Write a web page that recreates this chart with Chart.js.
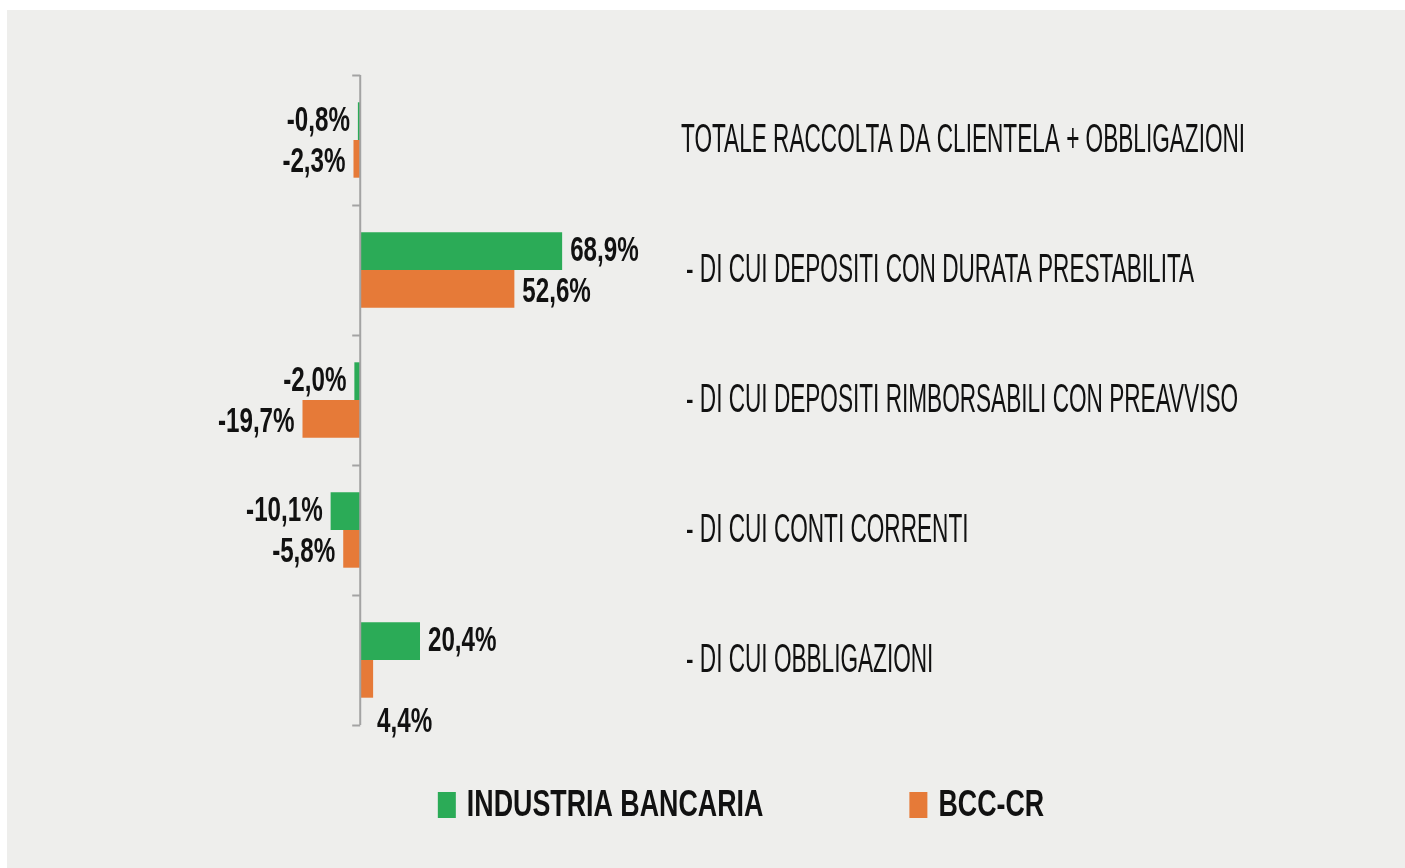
<!DOCTYPE html>
<html>
<head>
<meta charset="utf-8">
<script src="https://cdn.jsdelivr.net/npm/chart.js@4.4.1/dist/chart.umd.min.js"></script>
<style>
  html, body { margin: 0; padding: 0; background: #ffffff; }
  #wrap { position: relative; width: 1405px; height: 868px; overflow: hidden; }
  #panel { position: absolute; left: 7px; top: 10px; right: 0; bottom: 0; background: #eeeeec; }
  #c { position: absolute; left: 0; top: 0; }
</style>
</head>
<body>
<div id="wrap">
  <div id="panel"></div>
  <canvas id="c" width="1405" height="868"></canvas>
</div>
<script>
// ---- data ----
const categories = [
  'TOTALE RACCOLTA DA CLIENTELA + OBBLIGAZIONI',
  '- DI CUI DEPOSITI CON DURATA PRESTABILITA',
  '- DI CUI DEPOSITI RIMBORSABILI CON PREAVVISO',
  '- DI CUI CONTI CORRENTI',
  '- DI CUI OBBLIGAZIONI'
];
const seriesNames = ['INDUSTRIA BANCARIA', 'BCC-CR'];
const industriaBancaria = [-0.8, 68.9, -2.0, -10.1, 20.4];
const bccCr = [-2.3, 52.6, -19.7, -5.8, 4.4];

const GREEN = '#2bab57';
const ORANGE = '#e67a38';
const AXIS = '#a3a3a3';
const FONT = "'Liberation Sans', Arial, sans-serif";

function fmt(v) {
  return v.toFixed(1).replace('.', ',') + '%';
}

// draw horizontally condensed text
function drawText(ctx, text, x, y, opts) {
  ctx.save();
  ctx.font = (opts.bold ? 'bold ' : '') + opts.size + 'px ' + FONT;
  ctx.fillStyle = opts.color || '#111';
  ctx.textBaseline = 'middle';
  ctx.textAlign = 'left';
  const w = ctx.measureText(text).width * opts.sx;
  let left = x;
  if (opts.align === 'right') left = x - w;
  else if (opts.align === 'center') left = x - w / 2;
  ctx.translate(left, y);
  ctx.scale(opts.sx, 1);
  ctx.fillText(text, 0, 0);
  ctx.restore();
  return w;
}

const customDraw = {
  id: 'customDraw',
  afterDatasetsDraw(chart, args, o) {
    const ctx = chart.ctx;
    const xs = chart.scales.x, ys = chart.scales.y;
    const x0 = xs.getPixelForValue(0);
    const n = chart.data.labels.length;
    const h = (ys.bottom - ys.top) / n;

    // axis line + tick marks at category boundaries
    ctx.save();
    ctx.strokeStyle = AXIS;
    ctx.lineWidth = 2;
    ctx.beginPath();
    ctx.moveTo(x0, ys.top);
    ctx.lineTo(x0, ys.bottom);
    for (let i = 0; i <= n; i++) {
      const y = Math.round(ys.top + i * h) + 0.5;
      ctx.moveTo(x0 - 8, y);
      ctx.lineTo(x0, y);
    }
    ctx.stroke();
    ctx.restore();

    // category labels on the right
    chart.data.labels.forEach((lab, i) => {
      const y = ys.getPixelForValue(i);
      const x = lab.startsWith('-') ? o.catX + 5 : o.catX;
      drawText(ctx, lab, x, y + 1, { size: 40, sx: 0.565, bold: false, color: '#111' });
    });

    // data labels
    chart.data.datasets.forEach((ds, di) => {
      const meta = chart.getDatasetMeta(di);
      meta.data.forEach((bar, i) => {
        const v = ds.data[i];
        const shift = (o.shift[di] && o.shift[di][i]) || [0, 0];
        const pad = 8;
        const xEnd = bar.x;
        const yc = bar.y + (di === 0 ? 0 : 3);
        if (v >= 0) {
          drawText(ctx, fmt(v), xEnd + pad + shift[0], yc + shift[1], { size: 35, sx: 0.69, bold: true });
        } else {
          drawText(ctx, fmt(v), xEnd - pad + shift[0], yc + shift[1], { size: 35, sx: 0.69, bold: true, align: 'right' });
        }
      });
    });

    // legend
    const items = chart.data.datasets.map(d => ({ text: d.label, color: d.backgroundColor }));
    ctx.save();
    ctx.font = 'bold 37px ' + FONT;
    const boxW = 18, boxH = 26, gapT = 11, gapItem = 146, sx = 0.725;
    const widths = items.map(it => boxW + gapT + ctx.measureText(it.text).width * sx);
    ctx.restore();
    const total = widths.reduce((a, b) => a + b, 0) + gapItem * (items.length - 1);
    let lx = o.legendCX - total / 2;
    const ly = o.legendY;
    items.forEach((it, k) => {
      ctx.fillStyle = it.color;
      ctx.fillRect(lx, ly - boxH / 2, boxW, boxH);
      drawText(ctx, it.text, lx + boxW + gapT, ly + 1, { size: 37, sx: sx, bold: true, color: '#111' });
      lx += widths[k] + gapItem;
    });
  }
};

new Chart(document.getElementById('c'), {
  type: 'bar',
  data: {
    labels: categories,
    datasets: [
      { label: seriesNames[0], data: industriaBancaria, backgroundColor: GREEN, borderWidth: 0 },
      { label: seriesNames[1], data: bccCr, backgroundColor: ORANGE, borderWidth: 0 }
    ]
  },
  options: {
    indexAxis: 'y',
    responsive: false,
    animation: false,
    events: [],
    layout: { padding: { left: 243, right: 107, top: 75, bottom: 143 } },
    datasets: { bar: { categoryPercentage: 0.58, barPercentage: 1.0 } },
    scales: {
      x: { display: false, min: -40, max: 320 },
      y: { display: false }
    },
    plugins: {
      legend: { display: false },
      tooltip: { enabled: false },
      customDraw: {
        catX: 681,
        legendCX: 741,
        legendY: 805,
        shift: { 1: { 4: [-4, 40] } }
      }
    }
  },
  plugins: [customDraw]
});
</script>
</body>
</html>
